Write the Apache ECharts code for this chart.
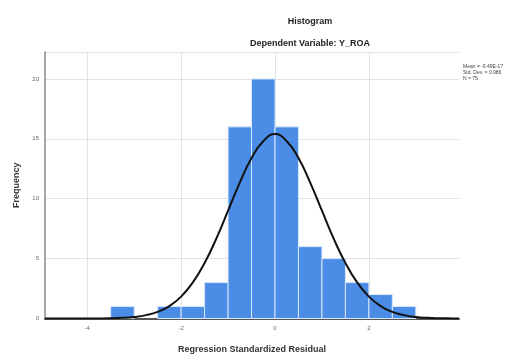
<!DOCTYPE html>
<html>
<head>
<meta charset="utf-8">
<script src="https://cdn.jsdelivr.net/npm/echarts@6/dist/echarts.min.js"></script>
<style>html,body{margin:0;padding:0;background:#fff;}#c{width:523px;height:354px;}</style>
</head>
<body>
<div id="c"></div>
<script>
// Histogram bins (left edge, width 0.5) and frequencies
var binStarts = [-3.5, -2.5, -2.0, -1.5, -1.0, -0.5, 0.0, 0.5, 1.0, 1.5, 2.0, 2.5];
var binWidth = 0.5;
var counts = [1, 1, 1, 3, 16, 20, 16, 6, 5, 3, 2, 1];
// Normal curve points
var curveX = [-4.9, -4.5, -4.0, -3.75, -3.5, -3.25, -3.0, -2.75, -2.5, -2.25, -2.0, -1.75, -1.5, -1.25, -1.0, -0.75, -0.5, -0.25, 0.0, 0.25, 0.5, 0.75, 1.0, 1.25, 1.5, 1.75, 2.0, 2.25, 2.5, 2.75, 3.0, 3.25, 3.5, 3.75, 3.92];
var curveY = [0.0, 0.0, 0.003, 0.008, 0.023, 0.056, 0.13, 0.28, 0.55, 1.04, 1.83, 3.01, 4.63, 6.67, 9.0, 11.35, 13.4, 14.8, 15.4, 14.8, 13.4, 11.35, 9.0, 6.67, 4.63, 3.01, 1.83, 1.04, 0.55, 0.28, 0.13, 0.056, 0.023, 0.008, 0.004];
var xTicks = [-4, -2, 0, 2];
var titleText = 'Histogram';
var subtitleText = 'Dependent Variable: Y_ROA';
var statsLines = ['Mean = -9.49E-17', 'Std. Dev. = 0.986', 'N = 75'];

var chart = echarts.init(document.getElementById('c'));
var barData = binStarts.map(function (s, i) { return [s, s + binWidth, counts[i]]; });
var lineData = curveX.map(function (x, i) { return [x, curveY[i]]; });

chart.setOption({
  animation: false,
  backgroundColor: '#fff',
  textStyle: { fontFamily: 'Liberation Sans, Arial, sans-serif' },
  grid: { left: 45, right: 64, top: 52, bottom: 35.5, containLabel: false, outerBoundsMode: 'none' },
  xAxis: {
    type: 'value', min: -4.9, max: 3.92,
    name: 'Regression Standardized Residual', nameLocation: 'middle', nameGap: 27,
    nameTextStyle: { fontSize: 9, fontWeight: 'bold', color: '#333' },
    axisLine: { show: true, onZero: false, lineStyle: { color: '#555', width: 2 } },
    axisTick: { show: false, customValues: xTicks },
    axisLabel: { customValues: xTicks, fontSize: 6, color: '#666', margin: 7 },
    splitLine: { show: true, lineStyle: { color: '#e2e2e2', width: 1 } }
  },
  yAxis: {
    type: 'value', min: 0, max: 22.25, interval: 5,
    name: 'Frequency', nameLocation: 'middle', nameGap: 21,
    nameTextStyle: { fontSize: 9, fontWeight: 'bold', color: '#333' },
    axisLine: { show: true, onZero: false, lineStyle: { color: '#888', width: 1.5 } },
    axisTick: { show: false },
    axisLabel: { fontSize: 6, color: '#666', margin: 6, showMaxLabel: false },
    splitLine: { show: true, lineStyle: { color: '#e2e2e2', width: 1 } }
  },
  title: [
    { text: titleText, left: 305, top: 12, textAlign: 'center',
      textStyle: { fontSize: 9, fontWeight: 'bold', color: '#222' } },
    { text: subtitleText, left: 305, top: 34, textAlign: 'center',
      textStyle: { fontSize: 9, fontWeight: 'bold', color: '#222' } }
  ],
  graphic: statsLines.map(function (t, i) {
    return { type: 'text', left: 463, top: 64 + i * 6,
      style: { text: t, fontSize: 5, fill: '#444', fontFamily: 'Liberation Sans, Arial, sans-serif' } };
  }),
  series: [
    {
      type: 'custom',
      data: barData,
      encode: { x: [0, 1], y: 2 },
      renderItem: function (params, api) {
        var p0 = api.coord([api.value(0), api.value(2)]);
        var p1 = api.coord([api.value(1), 0]);
        return {
          type: 'rect',
          shape: { x: p0[0], y: p0[1], width: p1[0] - p0[0], height: p1[1] - p0[1] },
          style: { fill: '#4b8de6', stroke: '#d6e6fa', lineWidth: 1 }
        };
      },
      z: 2
    },
    {
      type: 'line',
      data: lineData,
      smooth: true,
      showSymbol: false,
      lineStyle: { color: '#111', width: 2 },
      z: 3
    }
  ]
});
</script>
</body>
</html>
